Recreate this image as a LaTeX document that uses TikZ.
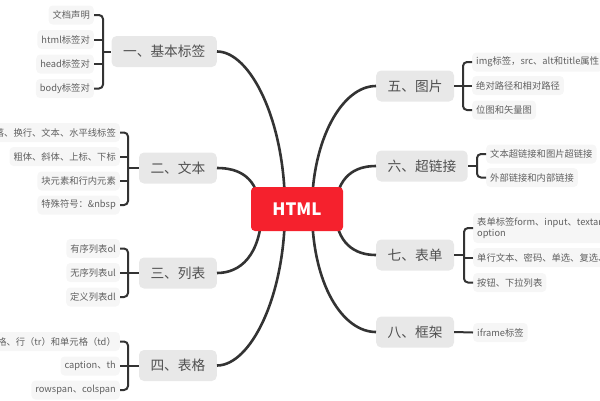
\documentclass[tikz,border=0pt]{standalone}
\usepackage{fontspec}
\setmainfont{Noto Sans CJK SC}
\definecolor{htmlred}{RGB}{245,33,45}
\definecolor{mainfill}{RGB}{232,232,232}
\definecolor{leaffill}{RGB}{246,246,246}
\definecolor{maintext}{RGB}{80,80,80}
\definecolor{leaftext}{RGB}{96,96,96}
\definecolor{linecol}{RGB}{51,51,51}
\tikzset{
  rootbox/.style={fill=htmlred,rounded corners=4pt,minimum width=92pt,minimum height=44pt,text=white,font=\fontsize{17}{20}\selectfont\bfseries},
  mainbox/.style={fill=mainfill,rounded corners=5pt,minimum height=31pt,inner xsep=11.5pt,inner ysep=0pt,text=maintext,font=\fontsize{13.7}{16}\selectfont},
  leafbox/.style={fill=leaffill,rounded corners=4pt,minimum height=19pt,inner xsep=4pt,inner ysep=0pt,text=leaftext,font=\fontsize{9.3}{11}\selectfont},
  curveline/.style={draw=linecol,line width=2.6pt},
  br/.style={draw=linecol,line width=2pt,rounded corners=4pt},
}
\begin{document}
\begin{tikzpicture}[x=1pt,y=-1pt]
\useasboundingbox (0,0) rectangle (600,400);
\clip (0,0) rectangle (600,400);
% hidden start points inside the root
\coordinate (h1) at (285,209);
\coordinate (h2) at (260,209);
\coordinate (h3) at (262,209);
\coordinate (h4) at (285,209);
\coordinate (h5) at (312,209);
\coordinate (h6) at (335,209);
\coordinate (h7) at (335,209);
\coordinate (h8) at (312,209);
% main topics
\node[mainbox,anchor=east] (m1) at (217,51.5) {一、基本标签};
\node[mainbox,anchor=east] (m2) at (217,168) {二、文本};
\node[mainbox,anchor=east] (m3) at (217,273) {三、列表};
\node[mainbox,anchor=east] (m4) at (217,365.5) {四、表格};
\node[mainbox,anchor=west] (m5) at (376,86) {五、图片};
\node[mainbox,anchor=west] (m6) at (376,166) {六、超链接};
\node[mainbox,anchor=west] (m7) at (376,255) {七、表单};
\node[mainbox,anchor=west] (m8) at (376,332) {八、框架};
% curves
\draw[curveline] (m1.east) .. controls (250,51.5) and (285,120) .. (h1);
\draw[curveline] (m2.east) .. controls (240,168) and (258,178) .. (h2);
\draw[curveline] (m3.east) .. controls (240,273) and (261,256) .. (h3);
\draw[curveline] (m4.east) .. controls (250,365.5) and (285,298) .. (h4);
\draw[curveline] (m5.west) .. controls (342,86) and (312,140) .. (h5);
\draw[curveline] (m6.west) .. controls (355,166) and (337,176) .. (h6);
\draw[curveline] (m7.west) .. controls (355,255) and (336,244) .. (h7);
\draw[curveline] (m8.west) .. controls (343,332) and (312,285) .. (h8);
% root
\node[rootbox] (html) at (297,209) {HTML};
% group 1
\node[leafbox,anchor=east] (a1) at (94,15) {文档声明};
\node[leafbox,anchor=east] (a2) at (94,39.5) {html标签对};
\node[leafbox,anchor=east] (a3) at (94,64) {head标签对};
\node[leafbox,anchor=east] (a4) at (94,88.5) {body标签对};
\coordinate (ba) at (103,51.5);
\draw[br] (a1.east) -| (ba) |- (a4.east);
\draw[br,rounded corners=0pt] (a2.east) -- (a2.east -| ba);
\draw[br,rounded corners=0pt] (a3.east) -- (a3.east -| ba);
\draw[br,rounded corners=0pt] (ba) -- (m1.west);
% group 2
\node[leafbox,anchor=east] (b1) at (120,132.5) {段落、换行、文本、水平线标签};
\node[leafbox,anchor=east] (b2) at (120,156.5) {粗体、斜体、上标、下标};
\node[leafbox,anchor=east] (b3) at (120,181) {块元素和行内元素};
\node[leafbox,anchor=east] (b4) at (120,205) {特殊符号：\&nbsp};
\coordinate (bb) at (128,168);
\draw[br] (b1.east) -| (bb) |- (b4.east);
\draw[br,rounded corners=0pt] (b2.east) -- (b2.east -| bb);
\draw[br,rounded corners=0pt] (b3.east) -- (b3.east -| bb);
\draw[br,rounded corners=0pt] (bb) -- (m2.west);
% group 3
\node[leafbox,anchor=east] (c1) at (120,248.5) {有序列表ol};
\node[leafbox,anchor=east] (c2) at (120,272.5) {无序列表ul};
\node[leafbox,anchor=east] (c3) at (120,297) {定义列表dl};
\coordinate (bc) at (128,273);
\draw[br] (c1.east) -| (bc) |- (c3.east);
\draw[br,rounded corners=0pt] (c2.east) -- (c2.east -| bc);
\draw[br,rounded corners=0pt] (bc) -- (m3.west);
% group 4
\node[leafbox,anchor=east] (d1) at (120,341.5) {表格、行（tr）和单元格（td）};
\node[leafbox,anchor=east] (d2) at (120,366) {caption、th};
\node[leafbox,anchor=east] (d3) at (120,390) {rowspan、colspan};
\coordinate (bd) at (128,365.5);
\draw[br] (d1.east) -| (bd) |- (d3.east);
\draw[br,rounded corners=0pt] (d2.east) -- (d2.east -| bd);
\draw[br,rounded corners=0pt] (bd) -- (m4.west);
% group 5
\node[leafbox,anchor=west] (e1) at (472,62) {img标签，src、alt和title属性};
\node[leafbox,anchor=west] (e2) at (472,85.5) {绝对路径和相对路径};
\node[leafbox,anchor=west] (e3) at (472,110) {位图和矢量图};
\coordinate (be) at (463,86);
\draw[br] (e1.west) -| (be) |- (e3.west);
\draw[br,rounded corners=0pt] (e2.west) -- (e2.west -| be);
\draw[br,rounded corners=0pt] (be) -- (m5.east);
% group 6
\node[leafbox,anchor=west] (f1) at (486,154) {文本超链接和图片超链接};
\node[leafbox,anchor=west] (f2) at (486,177.5) {外部链接和内部链接};
\coordinate (bf) at (477,166);
\draw[br] (f1.west) -| (bf) |- (f2.west);
\draw[br,rounded corners=0pt] (bf) -- (m6.east);
% group 7
\node[leafbox,anchor=west,align=left,minimum height=30pt] (g1) at (473,228) {表单标签form、input、textarea、select、\\option};
\node[leafbox,anchor=west] (g2) at (473,257.5) {单行文本、密码、单选、复选、文件};
\node[leafbox,anchor=west] (g3) at (473,282.5) {按钮、下拉列表};
\coordinate (bg) at (464,255);
\draw[br] (g1.west) -| (bg) |- (g3.west);
\draw[br,rounded corners=0pt] (g2.west) -- (g2.west -| bg);
\draw[br,rounded corners=0pt] (bg) -- (m7.east);
% group 8
\node[leafbox,anchor=west] (k1) at (473,332.5) {iframe标签};
\draw[br,rounded corners=0pt] (m8.east) -- (k1.west);
\end{tikzpicture}
\end{document}
